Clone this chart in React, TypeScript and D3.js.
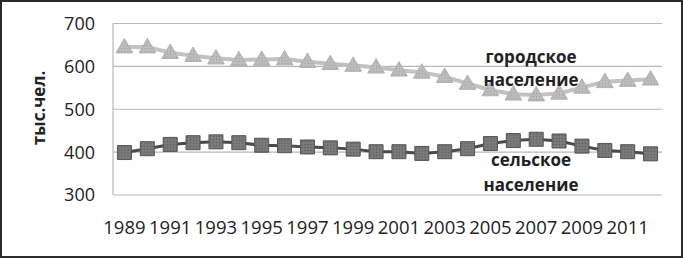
import React from "react";
import * as d3 from "d3";

const years = d3.range(1989, 2013).map(String);
const urban = [645, 645, 632, 625, 619, 615, 616, 617, 611, 606, 602, 598, 591, 586, 576, 560, 545, 535, 533, 537, 551, 564, 567, 570];
const rural = [399, 408, 418, 422, 424, 422, 416, 415, 412, 410, 407, 401, 401, 397, 401, 408, 420, 427, 430, 426, 414, 404, 401, 396];
const yTicks = [300, 400, 500, 600, 700];
const xTickLabels = ["1989", "1991", "1993", "1995", "1997", "1999", "2001", "2003", "2005", "2007", "2009", "2011"];
const yTitle = "тыс.чел.";
const urbanLabel = ["городское", "население"];
const ruralLabel = ["сельское", "население"];

const W = 683;
const H = 258;
const FONT = "'Open Sans', 'Noto Sans', sans-serif";

export default function App() {
  const x = d3.scaleBand<string>().domain(years).range([113, 662]);
  const y = d3.scaleLinear().domain([300, 700]).range([195, 23.5]);
  const cx = (i: number) => (x(years[i]) as number) + x.bandwidth() / 2;
  const line = d3
    .line<number>()
    .x((_, i) => cx(i))
    .y((d) => y(d));
  const tri = d3.symbol().type(d3.symbolTriangle).size(120);
  const sq = d3.symbol().type(d3.symbolSquare).size(196);

  return (
    <div style={{ position: "fixed", left: 0, top: 0, width: W, height: H, background: "#fff" }}>
      <svg width={W} height={H} style={{ display: "block" }}>
        <defs>
          <pattern id="dotsL" width="3" height="3" patternUnits="userSpaceOnUse">
            <rect width="3" height="3" fill="#bdbdbd" />
            <rect width="1" height="1" fill="#9a9a9a" />
          </pattern>
          <pattern id="dotsD" width="3" height="3" patternUnits="userSpaceOnUse">
            <rect width="3" height="3" fill="#7a7a7a" />
            <rect width="1" height="1" fill="#505050" />
          </pattern>
        </defs>
        <rect x={1} y={1} width={W - 2} height={H - 2} fill="#fff" stroke="#2a2a2a" strokeWidth={2} />
        {yTicks.map((t) => (
          <line key={t} x1={113} x2={662} y1={y(t)} y2={y(t)} stroke="#b8b8b8" strokeWidth={1.2} />
        ))}
        <line x1={113} x2={113} y1={y(700)} y2={y(300)} stroke="#b8b8b8" strokeWidth={1.2} />
        {yTicks.map((t) => (
          <text key={t} x={95} y={y(t)} dy="0.36em" textAnchor="end" fontFamily={FONT} fontSize={18} fill="#222">
            {t}
          </text>
        ))}
        {xTickLabels.map((l) => (
          <text
            key={l}
            x={(x(l) as number) + x.bandwidth() / 2}
            y={234}
            textAnchor="middle"
            fontFamily={FONT}
            fontSize={18.5}
            fill="#222"
          >
            {l}
          </text>
        ))}
        <text
          transform={`translate(45,108) rotate(-90)`}
          textAnchor="middle"
          fontFamily={FONT}
          fontSize={17}
          fontWeight="bold"
          fill="#222"
        >
          {yTitle}
        </text>
        <path d={line(urban) as string} fill="none" stroke="#c2c2c2" strokeWidth={4} />
        {urban.map((v, i) => (
          <path
            key={i}
            d={tri() as string}
            transform={`translate(${cx(i)},${y(v) + 1})`}
            fill="url(#dotsL)"
            stroke="#b0b0b0"
            strokeWidth={1}
          />
        ))}
        <path d={line(rural) as string} fill="none" stroke="#4a4a4a" strokeWidth={3} />
        {rural.map((v, i) => (
          <path
            key={i}
            d={sq() as string}
            transform={`translate(${cx(i)},${y(v)})`}
            fill="url(#dotsD)"
            stroke="#555"
            strokeWidth={1}
          />
        ))}
        {urbanLabel.map((t, i) => (
          <text key={t + i} x={531} y={63 + i * 23} textAnchor="middle" fontFamily={FONT} fontSize={17} fontWeight="bold" fill="#222">
            {t}
          </text>
        ))}
        {ruralLabel.map((t, i) => (
          <text key={t + i} x={531} y={166 + i * 25} textAnchor="middle" fontFamily={FONT} fontSize={17} fontWeight="bold" fill="#222">
            {t}
          </text>
        ))}
      </svg>
    </div>
  );
}
